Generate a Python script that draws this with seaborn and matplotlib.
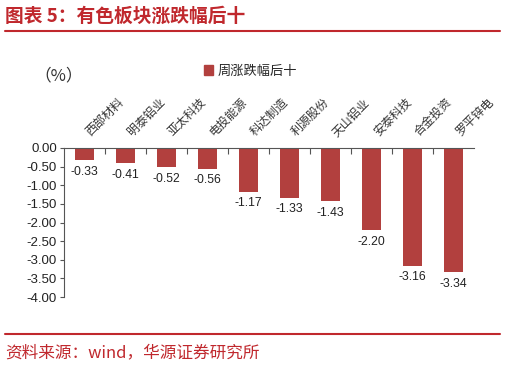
import matplotlib
matplotlib.use("Agg")
import matplotlib.pyplot as plt
import matplotlib.transforms as mtransforms
import seaborn as sns
import pandas as pd
import numpy as np
from matplotlib.lines import Line2D
from matplotlib.patches import Patch

categories = ["西部材料", "明泰铝业", "亚太科技", "电投能源", "科达制造",
              "利源股份", "天山铝业", "安泰科技", "合金投资", "罗平锌电"]
values = [-0.33, -0.41, -0.52, -0.56, -1.17, -1.33, -1.43, -2.20, -3.16, -3.34]
yticks = [0.0, -0.5, -1.0, -1.5, -2.0, -2.5, -3.0, -3.5, -4.0]
series_name = "周涨跌幅后十"

sns.set_theme(style="white")
plt.rcParams['font.family'] = ['Noto Sans CJK SC', 'DejaVu Sans']

RED = "#B2403E"
TITLE_RED = "#C0282D"
LATIN = ['Liberation Sans', 'DejaVu Sans']

fig = plt.figure(figsize=(5.06, 3.68), dpi=100)
ax = fig.add_axes([64/506, 1-297/368, (474-64)/506, (297-148)/368])

df = pd.DataFrame({"cat": categories, "val": values})
sns.barplot(data=df, x="cat", y="val", color=RED, width=0.45, ax=ax,
            saturation=1, edgecolor="none")

ax.set_ylim(-4.0, 0.0)
ax.set_xlim(-0.5, len(categories) - 0.5)
ax.set_yticks(yticks)
ax.set_yticklabels([f"{v:.2f}" for v in yticks], fontsize=9.5, color="#222222",
                   family=LATIN)
ax.tick_params(axis='y', length=3, width=0.8, color="#555555", pad=2, left=True)

ax.xaxis.tick_top()
ax.set_xticks(range(len(categories)))
ax.set_xticklabels(categories, rotation=45, ha='left', va='center',
                   rotation_mode='anchor', fontsize=8.6, color="#333333")
ax.tick_params(axis='x', which='major', length=0, pad=10)
shift = mtransforms.ScaledTranslation(4/100, 0, fig.dpi_scale_trans)
for lab in ax.get_xticklabels():
    lab.set_transform(lab.get_transform() + shift)
ax.set_xticks(np.arange(0.5, len(categories) - 0.5, 1.0), minor=True)
ax.tick_params(axis='x', which='minor', top=True, bottom=False,
               direction='in', length=4, width=0.8, color="#555555")
ax.set_xlabel("")
ax.set_ylabel("")

for s in ["bottom", "right"]:
    ax.spines[s].set_visible(False)
for s in ["top", "left"]:
    ax.spines[s].set_visible(True)
    ax.spines[s].set_color("#555555")
    ax.spines[s].set_linewidth(0.8)

for i, v in enumerate(values):
    ax.annotate(f"{v:.2f}", xy=(i, v), xytext=(0, -4), textcoords="offset points",
                ha='center', va='top', fontsize=8.8, color="#222222", family=LATIN)

fig.legend(handles=[Patch(color=RED)], labels=[series_name],
           loc='center left', bbox_to_anchor=(204/506, 1-71/368),
           frameon=False, fontsize=9.5, handlelength=0.7, handleheight=0.7,
           handletextpad=0.3, borderpad=0, borderaxespad=0)

fig.text(34/506, 1-76/368, "（%）", fontsize=12, color="#333333", va='center', ha='left')

fig.text(5/506, 1-16/368, "图表 5：有色板块涨跌幅后十", fontsize=13.5, color=TITLE_RED,
         fontweight='bold', va='center', ha='left')
fig.add_artist(Line2D([5/506, 500/506], [1-31/368, 1-31/368], color=TITLE_RED,
                      linewidth=1.5, transform=fig.transFigure))
fig.add_artist(Line2D([5/506, 500/506], [1-334/368, 1-334/368], color=TITLE_RED,
                      linewidth=1.5, transform=fig.transFigure))
fig.text(5/506, 1-353/368, "资料来源：wind，华源证券研究所", fontsize=12, color=TITLE_RED,
         va='center', ha='left')

fig.savefig("out.png", dpi=100)
